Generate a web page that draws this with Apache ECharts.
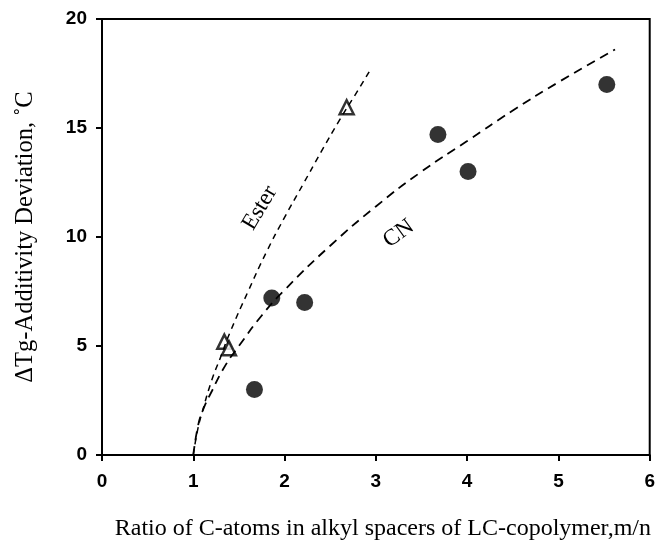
<!DOCTYPE html>
<html>
<head>
<meta charset="utf-8">
<script src="https://cdn.jsdelivr.net/npm/echarts@6/dist/echarts.min.js"></script>
<style>html,body{margin:0;padding:0;background:#fff;}#c{width:658px;height:547px;}</style>
</head>
<body>
<div id="c"></div>
<script>
var xTicks = [0, 1, 2, 3, 4, 5, 6];
var yTicks = [0, 5, 10, 15, 20];
var cnPoints = [[1.67, 3.0], [1.86, 7.2], [2.22, 7.0], [3.68, 14.7], [4.01, 13.0], [5.53, 17.0]];
var esterPoints = [[1.34, 5.2], [1.39, 4.9], [2.68, 15.95]];
var esterCurve = [[1.0, 0], [1.05, 1.2], [1.1, 2.0], [1.2, 3.4], [1.3, 4.5], [1.4, 5.6], [1.6, 7.5], [1.8, 9.3], [2.0, 10.9], [2.2, 12.4], [2.4, 13.9], [2.6, 15.35], [2.8, 16.7], [2.93, 17.6]];
var cnCurve = [[1.0, 0], [1.05, 1.3], [1.1, 2.0], [1.2, 2.9], [1.35, 4.1], [1.5, 5.0], [1.75, 6.4], [2.0, 7.57], [2.5, 9.6], [3.0, 11.4], [3.5, 13.0], [4.0, 14.4], [4.5, 15.8], [5.0, 17.1], [5.62, 18.6]];
var curveLabels = [{text: 'Ester', coord: [1.73, 11.33], rotate: 59}, {text: 'CN', coord: [3.25, 10.15], rotate: 36}];

var serif = 'Liberation Serif, Times New Roman, serif';
var chart = echarts.init(document.getElementById('c'));
var axisLine = {show: true, onZero: false, lineStyle: {color: '#000', width: 2}};
function curveLabel(l) {
  return {coord: l.coord, label: {show: true, formatter: l.text, rotate: l.rotate, color: '#000', fontFamily: serif, fontSize: 23, position: 'inside'}};
}
chart.setOption({
  animation: false,
  grid: {left: 102, right: 7, top: 19, bottom: 92, show: true, borderColor: '#000', borderWidth: 2, backgroundColor: 'transparent'},
  xAxis: {
    type: 'value', min: xTicks[0], max: xTicks[xTicks.length - 1], interval: 1,
    axisLine: axisLine,
    axisTick: {show: true, inside: false, length: 6, lineStyle: {color: '#000', width: 2}},
    splitLine: {show: false},
    axisLabel: {color: '#000', fontFamily: 'Liberation Sans, Arial', fontWeight: 'bold', fontSize: 19, margin: 17},
    name: 'Ratio of C-atoms in alkyl spacers of LC-copolymer,m/n',
    nameLocation: 'middle', nameGap: 62,
    nameTextStyle: {color: '#000', fontFamily: serif, fontSize: 24, padding: [0, 0, 0, 14]}
  },
  yAxis: {
    type: 'value', min: yTicks[0], max: yTicks[yTicks.length - 1], interval: 5,
    axisLine: axisLine,
    axisTick: {show: true, inside: false, length: 6, lineStyle: {color: '#000', width: 2}},
    splitLine: {show: false},
    axisLabel: {color: '#000', fontFamily: 'Liberation Sans, Arial', fontWeight: 'bold', fontSize: 19, margin: 15},
    name: 'ΔTg-Additivity Deviation, ˚C',
    nameLocation: 'middle', nameGap: 64, nameRotate: 90,
    nameTextStyle: {color: '#000', fontFamily: serif, fontSize: 24.5}
  },
  series: [
    {
      type: 'line', data: esterCurve, showSymbol: false, smooth: true, symbol: 'none',
      lineStyle: {color: '#000', width: 1.5, type: [6, 5]},
      markPoint: {symbol: 'circle', symbolSize: 0, data: [curveLabel(curveLabels[0])]}
    },
    {
      type: 'line', data: cnCurve, showSymbol: false, smooth: true, symbol: 'none',
      lineStyle: {color: '#000', width: 1.8, type: [9, 6]},
      markPoint: {symbol: 'circle', symbolSize: 0, data: [curveLabel(curveLabels[1])]}
    },
    {
      type: 'scatter', data: cnPoints, symbol: 'circle', symbolSize: 17,
      itemStyle: {color: '#000'}
    },
    {
      type: 'scatter', data: esterPoints, symbol: 'triangle', symbolSize: 14,
      itemStyle: {color: '#fff', borderColor: '#000', borderWidth: 2.5}
    }
  ]
});
</script>
</body>
</html>
